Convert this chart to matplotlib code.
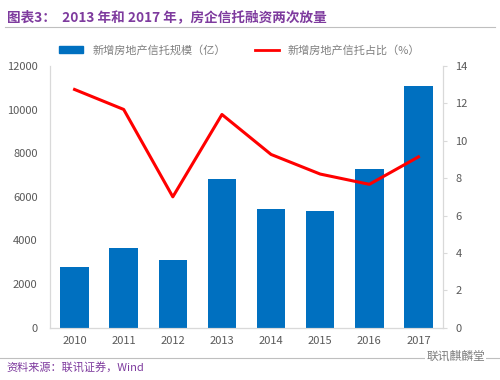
import matplotlib
matplotlib.use('Agg')
import matplotlib.pyplot as plt
from matplotlib.lines import Line2D

plt.rcParams['font.family'] = ['Noto Sans CJK SC', 'DejaVu Sans']

years = ['2010', '2011', '2012', '2013', '2014', '2015', '2016', '2017']
scale = [2790, 3630, 3100, 6810, 5440, 5350, 7300, 11110]   # 亿
share = [12.75, 11.68, 7.0, 11.41, 9.27, 8.22, 7.67, 9.14]   # %

blue = '#0070C0'
red = '#FF0000'
purple = '#7E3B9E'
grey = '#595959'

fig = plt.figure(figsize=(5, 3.8), dpi=100)
ax = fig.add_axes([0.1, 0.138, 0.786, 0.688])
ax2 = ax.twinx()

x = range(len(years))
ax.bar(x, scale, width=0.58, color=blue, zorder=2)
ax2.plot(x, share, color=red, lw=2.2, zorder=3)

ax.set_xlim(-0.5, len(years) - 0.5)
ax.set_ylim(0, 12000)
ax.set_yticks(range(0, 12001, 2000))
ax2.set_ylim(0, 14)
ax2.set_yticks(range(0, 15, 2))
ax.set_xticks(list(x))
ax.set_xticklabels(years)

for a in (ax, ax2):
    for s in a.spines.values():
        s.set_color('#D9D9D9')
    a.spines['top'].set_visible(False)
    a.tick_params(colors=grey, labelsize=8, length=0, pad=6)
ax.tick_params(axis='y', pad=9)
ax.spines['bottom'].set_color('#BFBFBF')
ax2.tick_params(axis='y', length=3, color='#D9D9D9', pad=6)

# legend
handles = [plt.Rectangle((0, 0), 1, 1, color=blue),
           Line2D([0], [0], color=red, lw=2)]
fig.legend(handles, ['新增房地产信托规模（亿）', '新增房地产信托占比（%）'],
           loc='center left', bbox_to_anchor=(0.098, 0.868), ncol=2, frameon=False,
           fontsize=8, labelcolor='#7F7F7F', handlelength=2.2, columnspacing=2.6,
           handleheight=0.5)

# title and footer
fig.text(0.014, 0.955, '图表3：  2013 年和 2017 年，房企信托融资两次放量',
         color=purple, fontsize=9.8, fontweight='bold', va='center')
fig.add_artist(Line2D([0.01, 0.99], [0.928, 0.928], color='#BFBFBF', lw=0.8))
fig.add_artist(Line2D([0.0, 1.0], [0.058, 0.058], color='#BFBFBF', lw=0.8))
fig.text(0.012, 0.030, '资料来源：联讯证券，Wind', color=purple,
         fontsize=8, style='italic', va='center')
fig.text(0.97, 0.062, '联讯麒麟堂', color='#7F7F7F', fontsize=8.5,
         ha='right', va='center',
         bbox=dict(facecolor='white', edgecolor='none', pad=1))

fig.savefig('out.png', dpi=100)
